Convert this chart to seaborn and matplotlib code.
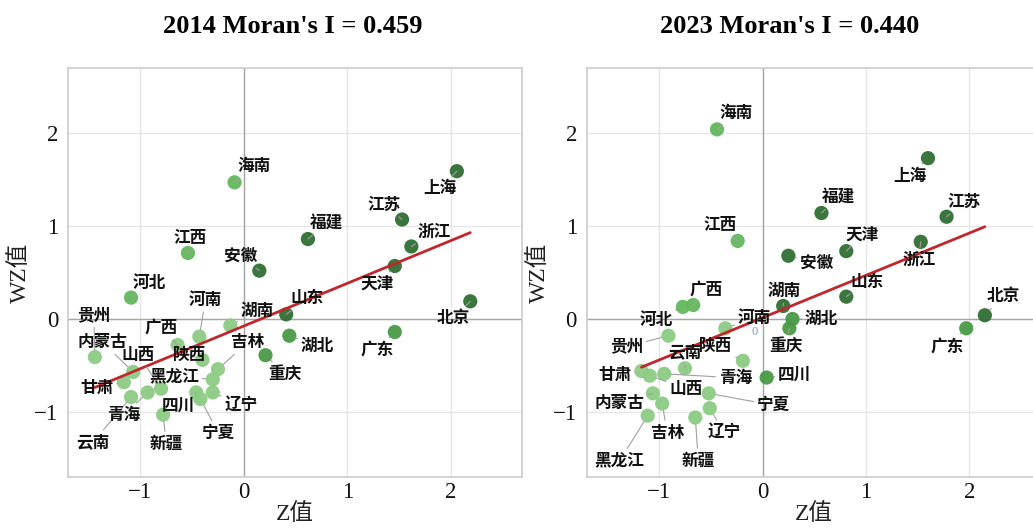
import numpy as np
import pandas as pd
import seaborn as sns
import matplotlib.pyplot as plt

# provinces (Tibet excluded)
provinces = ['北京', '天津', '河北', '山西', '内蒙古', '辽宁', '吉林', '黑龙江',
             '上海', '江苏', '浙江', '安徽', '福建', '江西', '山东', '河南',
             '湖北', '湖南', '广东', '广西', '海南', '重庆', '四川', '贵州',
             '云南', '陕西', '甘肃', '青海', '宁夏', '新疆']

z_2014 = [2.19, 1.46, -1.09, -0.80, -1.07, -0.30, -0.25, -0.30,
          2.06, 1.53, 1.62, 0.15, 0.62, -0.54, 0.41, -0.43,
          0.44, -0.13, 1.46, -0.64, -0.09, 0.21, -0.46, -1.44,
          -1.09, -0.40, -1.16, -0.93, -0.42, -0.78]
wz_2014 = [0.19, 0.57, 0.23, -0.75, -0.57, -0.79, -0.54, -0.65,
           1.59, 1.07, 0.78, 0.52, 0.86, 0.71, 0.05, -0.19,
           -0.18, -0.07, -0.14, -0.28, 1.47, -0.39, -0.79, -0.41,
           -0.84, -0.44, -0.68, -0.79, -0.86, -1.03]

z_2023 = [2.15, 0.81, -0.77, -1.09, -1.06, -0.51, -0.97, -1.11,
          1.60, 1.78, 1.53, 0.25, 0.57, -0.24, 0.81, -0.36,
          0.29, 0.20, 1.97, -0.67, -0.44, 0.26, 0.04, -0.91,
          -0.75, -0.19, -1.17, -0.95, -0.52, -0.65]
wz_2023 = [0.04, 0.73, 0.13, -0.61, -0.80, -0.96, -0.91, -1.04,
           1.73, 1.10, 0.83, 0.68, 1.14, 0.84, 0.24, -0.10,
           0.00, 0.14, -0.10, 0.15, 2.04, -0.10, -0.63, -0.18,
           -0.53, -0.45, -0.56, -0.59, -0.80, -1.06]

titles = ["2014 Moran's I = 0.459", "2023 Moran's I = 0.440"]

quad_colors = {'HH': '#2f6f33', 'HL': '#479a45', 'LH': '#62b85c', 'LL': '#8ccc84'}

# label placement (pixels from the point)
offsets_2014 = {
    '上海': (-17, -17), '江苏': (-18, 15), '浙江': (23, 15), '天津': (-18, -18),
    '北京': (-17, -17), '广东': (-18, -18), '福建': (19, 16), '安徽': (-19, 15),
    '山东': (21, 16), '湖北': (28, -10), '重庆': (19, -19), '海南': (19, 16),
    '江西': (2, 15), '河北': (18, 15), '湖南': (27, 15), '河南': (6, 37),
    '广西': (-16, 17), '陕西': (-13, 5), '吉林': (30, 27), '黑龙江': (-39, 3),
    '辽宁': (28, -13), '宁夏': (18, -34), '四川': (-18, -13), '新疆': (3, -29),
    '山西': (-23, 34), '青海': (-24, -23), '云南': (-38, -45), '甘肃': (-27, -6),
    '内蒙古': (-31, 30), '贵州': (-1, 42),
}
offsets_2023 = {
    '海南': (19, 16), '上海': (-18, -18), '福建': (17, 16), '江苏': (17, 15),
    '江西': (-18, 16), '浙江': (-2, -18), '天津': (16, 17), '安徽': (28, -7),
    '山东': (21, 15), '湖南': (1, 15), '北京': (18, 19), '湖北': (29, 0),
    '重庆': (-4, -18), '广东': (-19, -18), '广西': (13, 16), '河北': (-27, -13),
    '河南': (29, 10), '贵州': (-42, -11), '陕西': (-27, 15), '云南': (0, 16),
    '甘肃': (-27, -4), '山西': (36, -13), '青海': (71, -4), '四川': (28, 3),
    '内蒙古': (-33, -10), '宁夏': (65, -12), '吉林': (5, -29), '辽宁': (14, -24),
    '黑龙江': (-28, -45), '新疆': (3, -43),
}


def quadrant(z, wz):
    if z > 0:
        return 'HH' if wz > 0 else 'HL'
    return 'LH' if wz > 0 else 'LL'


sns.set_theme(style='white')
plt.rcParams['font.family'] = ['Liberation Serif', 'Noto Sans CJK SC']
plt.rcParams['axes.unicode_minus'] = True
plt.rcParams['text.color'] = '#000000'
plt.rcParams['axes.labelcolor'] = '#222222'
plt.rcParams['xtick.color'] = '#111111'
plt.rcParams['ytick.color'] = '#111111'

fig = plt.figure(figsize=(10.33, 5.32), dpi=100)
ax1 = fig.add_axes([68 / 1033, 55 / 532, 454 / 1033, 409 / 532])
ax2 = fig.add_axes([586.7 / 1033, 55 / 532, 454 / 1033, 409 / 532])


def draw(ax, z, wz, offsets, title, title_x):
    df = pd.DataFrame({'province': provinces, 'z': z, 'wz': wz})
    df['quad'] = [quadrant(a, b) for a, b in zip(z, wz)]

    ax.set_xlim(-1.7, 2.69)
    ax.set_ylim(-1.7, 2.7)
    ax.set_xticks([-1, 0, 1, 2])
    ax.set_yticks([-1, 0, 1, 2])
    ax.grid(True, color='#e6e6e6', lw=1)
    ax.set_axisbelow(True)
    ax.axhline(0, color='#a6a6a6', lw=1, zorder=1)
    ax.axvline(0, color='#a6a6a6', lw=1, zorder=1)
    for sp in ax.spines.values():
        sp.set_color('#cccccc')
        sp.set_linewidth(1.2)

    sns.scatterplot(data=df, x='z', y='wz', hue='quad', palette=quad_colors,
                    s=105, linewidth=0, alpha=0.95, legend=False, ax=ax, zorder=3)
    sns.regplot(data=df, x='z', y='wz', scatter=False, ci=None, ax=ax,
                color='#c0272d', line_kws={'lw': 2, 'zorder': 4})

    for name, x, y in zip(df['province'], df['z'], df['wz']):
        dx, dy = offsets[name]
        ax.annotate(name, (x, y), xytext=(dx, dy), textcoords='offset pixels',
                    ha='center', va='center', fontsize=12, fontweight='bold',
                    family=['Noto Sans CJK SC'], color='#111111', zorder=5,
                    arrowprops=dict(arrowstyle='-', color='#a0a0a0', lw=0.8,
                                    shrinkA=0, shrinkB=5))

    ax.tick_params(axis='both', length=0, labelsize=16.5)
    ax.tick_params(axis='x', pad=3.5)
    ax.tick_params(axis='y', pad=7)
    ax.set_xlabel('Z值', fontsize=17, labelpad=0)
    ax.set_ylabel('WZ值', fontsize=17, labelpad=2)
    ax.set_title(title, x=title_x, pad=25, fontsize=19, fontweight='bold', color='#000000')


draw(ax1, z_2014, wz_2014, offsets_2014, titles[0], 0.494)
draw(ax2, z_2023, wz_2023, offsets_2023, titles[1], 0.448)
ax2.text(-0.08, -0.135, '0', color='#8a9bb0', fontsize=9, ha='center', va='center')

fig.savefig('out.png', dpi=100)
